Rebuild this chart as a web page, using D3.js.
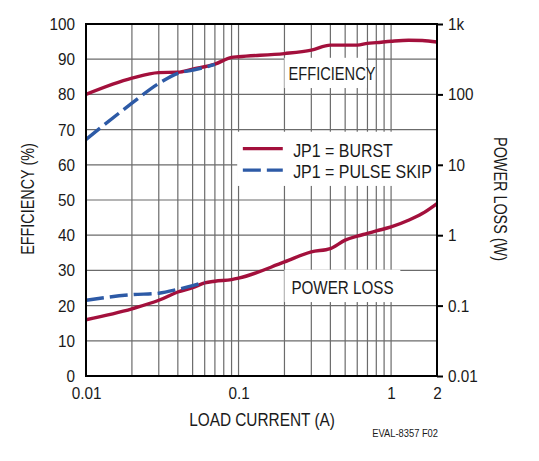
<!DOCTYPE html>
<html>
<head>
<meta charset="utf-8">
<script src="https://cdn.jsdelivr.net/npm/d3@7"></script>
<style>
  html, body { margin: 0; padding: 0; background: #fff; }
  svg text { font-family: "Liberation Sans", Arial, sans-serif; fill: #1a1a1a; }
</style>
</head>
<body>
<svg id="chart"></svg>
<script>
// --- data ---
const xTicks = [0.01, 0.1, 1, 2];
const xTickLabels = ["0.01", "0.1", "1", "2"];
const effTicks = [0, 10, 20, 30, 40, 50, 60, 70, 80, 90, 100];
const lossTicks = [0.01, 0.1, 1, 10, 100, 1000];
const lossTickLabels = ["0.01", "0.1", "1", "10", "100", "1k"];

// efficiency (%), JP1 = BURST
const effBurstI = [0.01, 0.02, 0.03, 0.04, 0.05, 0.07, 0.09, 0.1, 0.2, 0.3, 0.4, 0.5, 0.6, 0.7, 0.8, 1, 1.3, 1.6, 2];
const effBurst  = [80.0, 84.6, 86.2, 86.3, 87.2, 88.6, 90.5, 90.7, 91.6, 92.6, 94.0, 94.0, 94.0, 94.5, 94.7, 95.1, 95.4, 95.3, 94.9];
// efficiency (%), JP1 = PULSE SKIP
const effSkipI = [0.01, 0.02, 0.03, 0.04, 0.05, 0.06, 0.07];
const effSkip  = [67.2, 77.5, 83.1, 86.0, 86.9, 87.7, 88.5];

// power loss (W), JP1 = BURST
const lossBurstI = [0.01, 0.02, 0.03, 0.04, 0.05, 0.06, 0.07, 0.09, 0.1, 0.2, 0.3, 0.4, 0.5, 0.6, 0.7, 0.8, 1, 1.3, 1.6, 2];
const lossBurst  = [0.063, 0.09, 0.119, 0.156, 0.18, 0.21, 0.222, 0.234, 0.245, 0.417, 0.58, 0.646, 0.85, 0.97, 1.06, 1.15, 1.31, 1.63, 2.03, 2.82];
// power loss (W), JP1 = PULSE SKIP
const lossSkipI = [0.01, 0.02, 0.03, 0.04, 0.05, 0.06];
const lossSkip  = [0.119, 0.143, 0.15, 0.17, 0.192, 0.215];

// --- layout ---
const svgW = 539, svgH = 461;
const margin = { top: 24, right: 102, bottom: 85, left: 86 };
const width = svgW - margin.left - margin.right;
const height = svgH - margin.top - margin.bottom;

const RED = "#a3103c", BLUE = "#2d5aa6", GRID = "#6b6b6b";
const DASH = "18,6";

// squeeze a text horizontally (the original uses a narrow face)
function narrow(sel, k) {
  sel.each(function () {
    const t = this.getAttribute("transform") || "";
    const tx = +(this.getAttribute("x") || 0), ty = +(this.getAttribute("y") || 0);
    this.setAttribute("transform", `${t} translate(${tx},${ty}) scale(${k},1)`);
    this.setAttribute("x", 0);
    this.setAttribute("y", 0);
  });
}

const root = d3.select("#chart").attr("width", svgW).attr("height", svgH);
const svg = root.append("g").attr("transform", `translate(${margin.left},${margin.top})`);

const x = d3.scaleLog().domain([0.01, 2]).range([0, width]);
const yEff = d3.scaleLinear().domain([0, 100]).range([height, 0]);
const yLoss = d3.scaleLog().domain([0.01, 1000]).range([height, 0]);

// grid
const vGrid = [];
for (let d = 0.01; d < 1.5; d *= 10) for (let k = 1; k <= 9; k++) {
  const v = +(d * k).toPrecision(3);
  if (v > 0.01 && v < 2) vGrid.push(v);
}
svg.append("g").selectAll("line").data(vGrid).enter().append("line")
  .attr("x1", d => x(d)).attr("x2", d => x(d))
  .attr("y1", 0).attr("y2", height)
  .attr("stroke", GRID).attr("stroke-width", 1.2);
svg.append("g").selectAll("line").data(effTicks.slice(1, -1)).enter().append("line")
  .attr("x1", 0).attr("x2", width)
  .attr("y1", d => yEff(d)).attr("y2", d => yEff(d))
  .attr("stroke", GRID).attr("stroke-width", 1.2);

// white label boxes that knock out the grid
const boxes = [
  { x0: 0.2, x1: 0.69, y0: 90.4, y1: 81.8 },   // EFFICIENCY
  { x0: 0.098, x1: 2, y0: 69.4, y1: 54.0 },     // legend
  { x0: 0.2, x1: 1.15, y0: 30.2, y1: 21.0 }     // POWER LOSS
];
svg.append("g").selectAll("rect").data(boxes).enter().append("rect")
  .attr("x", d => x(d.x0)).attr("width", d => x(d.x1) - x(d.x0))
  .attr("y", d => yEff(d.y0)).attr("height", d => yEff(d.y1) - yEff(d.y0))
  .attr("fill", "#fff");

// curves
const lineEff = d3.line().x(d => x(d[0])).y(d => yEff(d[1])).curve(d3.curveMonotoneX);
const lineLoss = d3.line().x(d => x(d[0])).y(d => yLoss(d[1])).curve(d3.curveMonotoneX);

const series = [
  { pts: d3.zip(effBurstI, effBurst), line: lineEff, color: RED, dash: null },
  { pts: d3.zip(lossBurstI, lossBurst), line: lineLoss, color: RED, dash: null },
  { pts: d3.zip(effSkipI, effSkip), line: lineEff, color: BLUE, dash: DASH },
  { pts: d3.zip(lossSkipI, lossSkip), line: lineLoss, color: BLUE, dash: DASH }
];
series.forEach(s => {
  svg.append("path").datum(s.pts)
    .attr("d", s.line)
    .attr("fill", "none")
    .attr("stroke", s.color)
    .attr("stroke-width", 3.4)
    .attr("stroke-linejoin", "round")
    .attr("stroke-dasharray", s.dash);
});

// frame
svg.append("rect").attr("x", 0).attr("y", 0).attr("width", width).attr("height", height)
  .attr("fill", "none").attr("stroke", "#000").attr("stroke-width", 2);

// left axis
const axL = svg.append("g").call(d3.axisLeft(yEff).tickValues(effTicks).tickSize(0).tickPadding(11));
// right axis
const axR = svg.append("g").attr("transform", `translate(${width},0)`)
  .call(d3.axisRight(yLoss).tickValues(lossTicks).tickFormat((d, i) => lossTickLabels[i]).tickSize(6).tickPadding(5));
// bottom axis
const axB = svg.append("g").attr("transform", `translate(0,${height})`)
  .call(d3.axisBottom(x).tickValues(xTicks).tickFormat((d, i) => xTickLabels[i]).tickSize(0).tickPadding(11));

[axL, axR, axB].forEach(a => {
  a.select(".domain").remove();
  a.selectAll("text").style("font-size", "17px").attr("fill", "#1a1a1a").call(narrow, 0.9);
  a.selectAll("line").attr("stroke", "#000").attr("stroke-width", 2);
});

// in-plot labels
svg.append("text").attr("x", x(0.41)).attr("y", yEff(84.1))
  .attr("text-anchor", "middle").style("font-size", "19px").text("EFFICIENCY").call(narrow, 0.77);
svg.append("text").attr("x", x(0.48)).attr("y", yEff(23.2))
  .attr("text-anchor", "middle").style("font-size", "19px").text("POWER LOSS").call(narrow, 0.8);

// legend
const legend = [
  { label: "JP1 = BURST", color: RED, dash: null, y: 64.6 },
  { label: "JP1 = PULSE SKIP", color: BLUE, dash: DASH, y: 58.5 }
];
const lg = svg.append("g").selectAll("g").data(legend).enter().append("g");
lg.append("line")
  .attr("x1", x(0.1067)).attr("x2", x(0.195))
  .attr("y1", d => yEff(d.y)).attr("y2", d => yEff(d.y))
  .attr("stroke", d => d.color).attr("stroke-width", 3.4)
  .attr("stroke-dasharray", d => d.dash);
lg.append("text")
  .attr("x", x(0.228)).attr("y", d => yEff(d.y) + 8)
  .style("font-size", "19px").text(d => d.label).call(narrow, 0.84);

// axis titles
root.append("text").attr("transform", "translate(34,199) rotate(-90)")
  .attr("text-anchor", "middle").style("font-size", "18px").text("EFFICIENCY (%)").call(narrow, 0.8);
root.append("text").attr("transform", "translate(494,199) rotate(90)")
  .attr("text-anchor", "middle").style("font-size", "18px").text("POWER LOSS (W)").call(narrow, 0.8);
root.append("text").attr("x", 262).attr("y", 426)
  .attr("text-anchor", "middle").style("font-size", "19px").text("LOAD CURRENT (A)").call(narrow, 0.81);
root.append("text").attr("x", 438).attr("y", 437)
  .attr("text-anchor", "end").style("font-size", "11px").attr("fill", "#444").text("EVAL-8357 F02").call(narrow, 0.85);
</script>
</body>
</html>
